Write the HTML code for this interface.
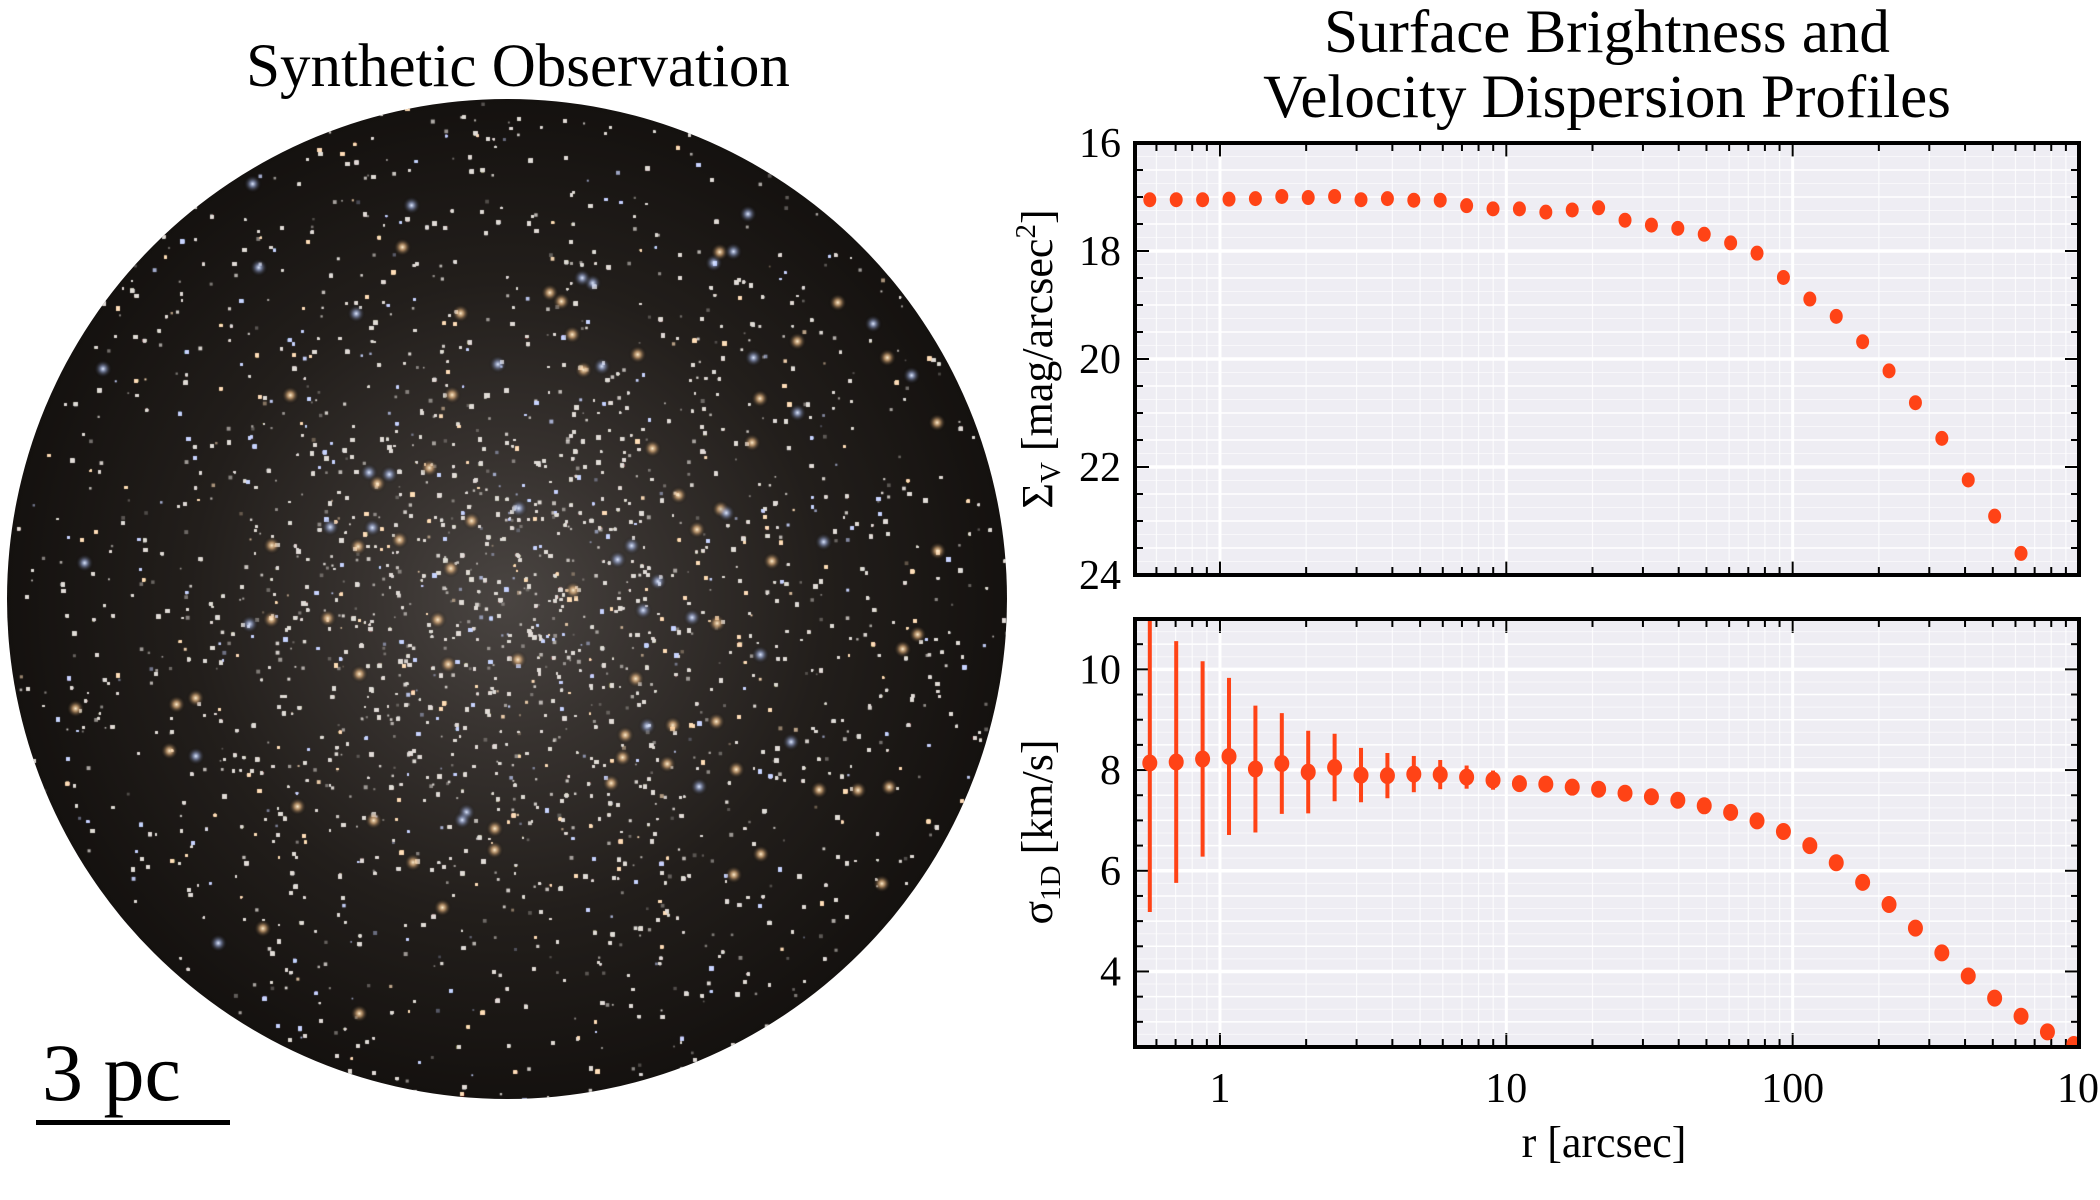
<!DOCTYPE html>
<html><head><meta charset="utf-8">
<style>
html,body{margin:0;padding:0;background:#fff;}
#root{position:relative;width:2100px;height:1200px;overflow:hidden;font-family:"Liberation Serif","DejaVu Serif",serif;}
#sky{position:absolute;left:7px;top:99px;width:1000px;height:1000px;border-radius:50%;
background:radial-gradient(circle at 50% 50%,#4a4542 0%,#37322f 20%,#221e1b 45%,#120f0d 75%,#0a0807 100%);overflow:hidden;}
#sky canvas{position:absolute;left:0;top:0;}
.t{position:absolute;white-space:nowrap;color:#000;}
</style></head>
<body>
<div id="root">
  <div class="t" style="left:0;width:1036px;text-align:center;top:32px;font-size:61px;">Synthetic Observation</div>
  <div id="sky"><canvas id="cv" width="1000" height="1000"></canvas></div>
  <div class="t" style="left:42px;top:1026px;font-size:82px;">3 pc</div>
  <div style="position:absolute;left:36px;top:1120px;width:194px;height:5px;background:#000;"></div>
  <div class="t" style="left:1107px;width:1000px;text-align:center;top:0px;font-size:61px;line-height:65px;">Surface Brightness and<br>Velocity Dispersion Profiles</div>
  <svg id="ch" width="2100" height="1200" style="position:absolute;left:0;top:0;"></svg>
</div>
<script>
// ---- chart data ----
const radiusLogStart = -0.245;     // log10 r of first bin
const radiusLogStep = 0.0922;      // log spacing of bins
const sbValues = [17.05,17.05,17.05,17.04,17.03,16.99,17.01,16.99,17.05,17.03,17.06,17.06,17.16,17.22,17.22,17.28,17.24,17.20,17.43,17.52,17.58,17.69,17.85,18.04,18.49,18.89,19.21,19.68,20.22,20.81,21.47,22.24,22.91,23.60];
const sigmaValues = [8.14,8.16,8.22,8.27,8.02,8.13,7.96,8.05,7.90,7.89,7.92,7.91,7.86,7.80,7.73,7.72,7.66,7.62,7.54,7.47,7.40,7.29,7.16,6.99,6.78,6.50,6.16,5.77,5.33,4.86,4.37,3.91,3.47,3.11,2.80,2.55];
const sigmaErrors = [2.96,2.40,1.94,1.56,1.26,1.00,0.82,0.67,0.54,0.45,0.36,0.29,0.23,0.19,0.05,0.04,0.03,0.03,0.03,0.03,0.03,0.03,0.03,0.03,0.03,0.03,0.03,0.03,0.03,0.03,0.03,0.03,0.03,0.03,0.03,0.03];
const xTickValues = [1,10,100,1000];
const xTickLabels = ["1","10","100","10"];
const sbTicks = [16,18,20,22,24];
const sigmaTicks = [4,6,8,10];

const NS='http://www.w3.org/2000/svg';
const svg=document.getElementById('ch');
function mk(tag,attrs,parent){const e=document.createElementNS(NS,tag);for(const k in attrs)e.setAttribute(k,attrs[k]);(parent||svg).appendChild(e);return e;}
const PL=1135,PR=2079,XMIN=Math.log10(0.505),XMAX=3;
function xs(r){return PL+(Math.log10(r)-XMIN)/(XMAX-XMIN)*(PR-PL);}
const top1={t:143,b:575,lo:16,hi:24,inv:true};
const bot1={t:619,b:1047,lo:2.5,hi:11,inv:false};
function ys(p,v){return p.inv? p.t+(v-p.lo)/(p.hi-p.lo)*(p.b-p.t) : p.b-(v-p.lo)/(p.hi-p.lo)*(p.b-p.t);}
const COL='#ff4316';

function panel(p,ticks,name){
  const g=mk('g',{});
  
  
  mk('rect',{x:PL,y:p.t,width:PR-PL,height:p.b-p.t,fill:'#eeedf3'},g);
  for(let d=-1;d<3;d++)for(let m=1;m<10;m++){const v=m*Math.pow(10,d);const x=xs(v);if(x<PL||x>PR)continue;
    const major=(m===1);
    const l=mk('line',{x1:x,x2:x,y1:p.t,y2:p.b,stroke:'#fff','stroke-width':major?3:1.2,opacity:major?1:0.8},g);
    
    const len=major?14:8;
    mk('line',{x1:x,x2:x,y1:p.b,y2:p.b-len,stroke:'#000','stroke-width':2},g);
    mk('line',{x1:x,x2:x,y1:p.t,y2:p.t+len,stroke:'#000','stroke-width':2},g);
  }
  for(let v=Math.ceil(p.lo*4)/4;v<=p.hi+1e-9;v+=0.25){
    const y=ys(p,v);const major=Math.abs(v/2-Math.round(v/2))<1e-6;const half=Math.abs(v*2-Math.round(v*2))<1e-6;
    if(!major&&!half){mk('line',{x1:PL,x2:PR,y1:y,y2:y,stroke:'#fff','stroke-width':1,opacity:0.6},g);continue;}
    mk('line',{x1:PL,x2:PR,y1:y,y2:y,stroke:'#fff','stroke-width':major?3.5:1.5},g);
    const len=major?14:8;
    mk('line',{x1:PL,x2:PL+len,y1:y,y2:y,stroke:'#000','stroke-width':2},g);
    mk('line',{x1:PR,x2:PR-len,y1:y,y2:y,stroke:'#000','stroke-width':2},g);
  }
  ticks.forEach(v=>{const t=mk('text',{x:PL-14,y:ys(p,v)+14,'text-anchor':'end','font-size':42,'font-family':'Liberation Serif, serif'},g);t.textContent=v;
    });
  mk('rect',{x:PL,y:p.t,width:PR-PL,height:p.b-p.t,fill:'none',stroke:'#000','stroke-width':4},g);
  return g;
}
const g1=panel(top1,sbTicks,'surface-brightness');
const g2=panel(bot1,sigmaTicks,'velocity-dispersion');
const clip=mk('clipPath',{id:'cb'});mk('rect',{x:PL,y:bot1.t,width:PR-PL,height:bot1.b-bot1.t},clip);
const clip1=mk('clipPath',{id:'ct'});mk('rect',{x:PL,y:top1.t,width:PR-PL,height:top1.b-top1.t},clip1);

sbValues.forEach((v,i)=>{const r=Math.pow(10,radiusLogStart+radiusLogStep*i);
  const c=mk('ellipse',{cx:xs(r),cy:ys(top1,v),rx:6.5,ry:7.5,fill:COL,'clip-path':'url(#ct)'});
  });
const eg=mk('g',{'clip-path':'url(#cb)'});
sigmaValues.forEach((v,i)=>{const r=Math.pow(10,radiusLogStart+radiusLogStep*i);const x=xs(r);const e=sigmaErrors[i];
  const l=mk('line',{x1:x,x2:x,y1:ys(bot1,v+e),y2:ys(bot1,v-e),stroke:COL,'stroke-width':4},eg);
  
  const c=mk('ellipse',{cx:x,cy:ys(bot1,v),rx:7.5,ry:8.5,fill:COL},eg);
  });
mk('rect',{x:PL,y:bot1.t,width:PR-PL,height:bot1.b-bot1.t,fill:'none',stroke:'#000','stroke-width':4});

xTickValues.forEach((v,i)=>{const t=mk('text',{x:xs(v),y:1102,'text-anchor':'middle','font-size':42,'font-family':'Liberation Serif, serif'});
  t.textContent=xTickLabels[i];
  if(v===1000){t.setAttribute('text-anchor','start');t.setAttribute('x',xs(v)-22);const s=mk('tspan',{dy:-17,'font-size':26},t);s.textContent='3';}
  });
const xl=mk('text',{x:1604,y:1157,'text-anchor':'middle','font-size':44,'font-family':'Liberation Serif, serif'});xl.textContent='r [arcsec]';

const yl1=mk('text',{x:0,y:0,'text-anchor':'middle','font-size':44,'font-family':'Liberation Serif, DejaVu Serif, serif',transform:'translate(1052,359) rotate(-90)'});
yl1.innerHTML='Σ<tspan font-size="29" dy="8">V</tspan><tspan dy="-8"> [mag/arcsec</tspan><tspan font-size="29" dy="-17">2</tspan><tspan dy="17">]</tspan>';

const yl2=mk('text',{x:0,y:0,'text-anchor':'middle','font-size':44,'font-family':'Liberation Serif, DejaVu Serif, serif',transform:'translate(1052,832) rotate(-90)'});
yl2.innerHTML='σ<tspan font-size="29" dy="8">1D</tspan><tspan dy="-8"> [km/s]</tspan>';


// ---- star field (decorative image, deterministic PRNG) ----
(function(){
  const cv=document.getElementById('cv');const ctx=cv.getContext('2d');
  let s=12345;function rnd(){s=(s*1103515245+12345)&0x7fffffff;return s/0x7fffffff;}
  function gauss(){return Math.sqrt(-2*Math.log(rnd()+1e-9))*Math.cos(2*Math.PI*rnd());}
  for(let i=0;i<70000;i++){
    let x,y;
    const q=rnd();
    if(q<0.5){const rr=Math.sqrt(rnd())*520;const a=rnd()*6.283;x=500+rr*Math.cos(a);y=500+rr*Math.sin(a);}
    else if(q<0.85){x=500+gauss()*230;y=500+gauss()*230;}
    else{x=500+gauss()*110;y=500+gauss()*110;}
    const b=rnd();const c=b<0.12?'rgba(200,212,255,':(b<0.22?'rgba(255,222,185,':'rgba(225,220,215,');
    const a=0.25+rnd()*0.75;const rad=0.8+rnd()*1.2;
    ctx.fillStyle=c+a+')';ctx.fillRect(x-rad,y-rad,rad*2,rad*2);
  }
  for(let i=0;i<110;i++){
    const x=60+rnd()*880,y=60+rnd()*880;
    const g=ctx.createRadialGradient(x,y,0,x,y,9);
    const warm=rnd()<0.7;
    g.addColorStop(0,warm?'rgba(255,240,210,1)':'rgba(225,235,255,1)');g.addColorStop(0.35,warm?'rgba(255,200,140,0.6)':'rgba(180,200,255,0.5)');g.addColorStop(1,'rgba(0,0,0,0)');
    ctx.fillStyle=g;ctx.beginPath();ctx.arc(x,y,9,0,6.283);ctx.fill();
  }
})();
</script>
</body></html>
